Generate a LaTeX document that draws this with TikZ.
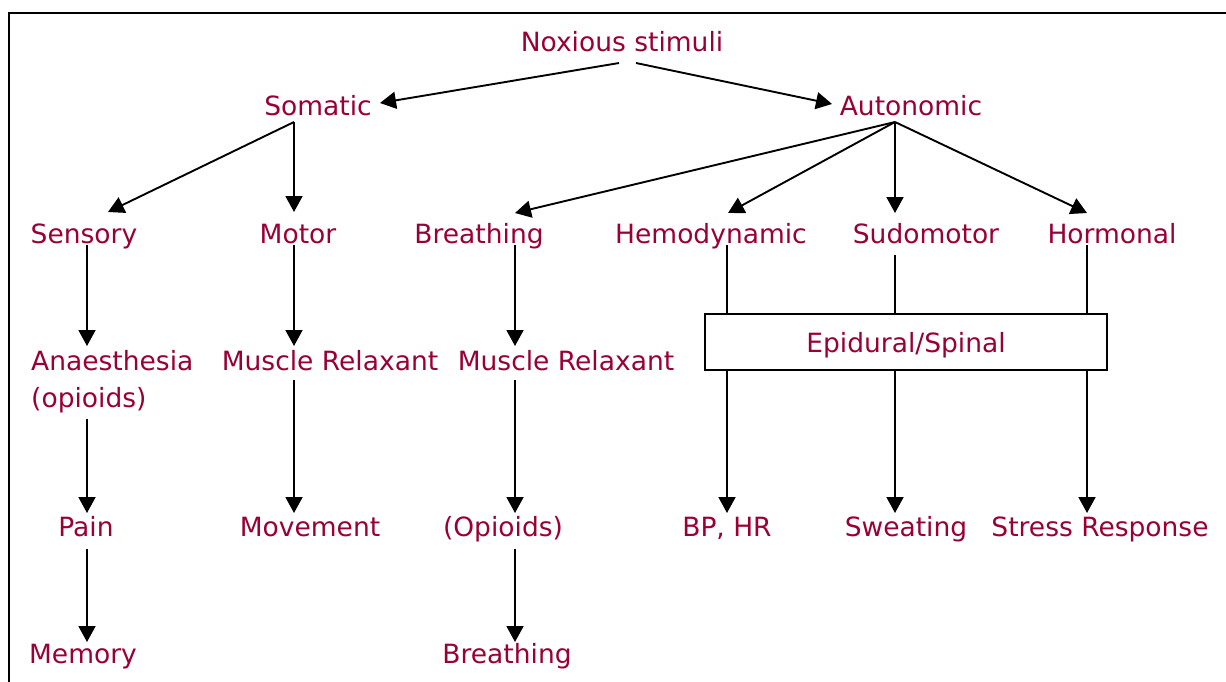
\documentclass[tikz,border=0pt]{standalone}
\usepackage{fontspec}
\setmainfont{DejaVu Sans}
\usetikzlibrary{arrows.meta}
\definecolor{lbl}{RGB}{153,0,51}
\begin{document}
\begin{tikzpicture}[x=1pt,y=-1pt,
  lab/.style={anchor=base,inner sep=0pt,text=lbl,font=\fontsize{26.5}{32}\selectfont},
  arr/.style={line width=1.9pt,-{Triangle[length=16pt,width=17pt]}},
  ln/.style={line width=1.9pt}]
\useasboundingbox (0,0) rectangle (1226,681);
\clip (0,0) rectangle (1226,681);
\draw[line width=2.2pt] (9,13) rectangle (1250,700);
% nodes
\node[lab] (nox) at (622,51.7) {Noxious stimuli};
\node[lab] (som) at (318,115) {Somatic};
\node[lab] (aut) at (911,115) {Autonomic};
\node[lab] (sen) at (84,243) {Sensory};
\node[lab] (mot) at (298,243) {Motor};
\node[lab] (bre) at (479,243) {Breathing};
\node[lab] (hem) at (711,243) {Hemodynamic};
\node[lab] (sud) at (926,243) {Sudomotor};
\node[lab] (hor) at (1112,243) {Hormonal};
\node[lab,anchor=base west] (ana1) at (31,370.7) {Anaesthesia};
\node[lab,anchor=base west] (ana2) at (31,407.5) {(opioids)};
\node[lab] (mr1) at (330,370.7) {Muscle Relaxant};
\node[lab] (mr2) at (566,370.7) {Muscle Relaxant};
\node[draw,line width=1.9pt,minimum width=402pt,minimum height=56pt,inner sep=0pt,text depth=0pt,text=lbl,font=\fontsize{26.5}{32}\selectfont] (epi) at (906,342) {Epidural/Spinal};
\node[lab] (pain) at (86,536) {Pain};
\node[lab] (mov) at (310,536) {Movement};
\node[lab] (opi) at (503,536) {(Opioids)};
\node[lab] (bp) at (727,536) {BP, HR};
\node[lab] (swe) at (906,536) {Sweating};
\node[lab] (str) at (1100,536) {Stress Response};
\node[lab] (mem) at (83,663) {Memory};
\node[lab] (bre2) at (507,663) {Breathing};
% connectors
\draw[arr] ([xshift=-3pt,yshift=-11.3pt]nox.base) -- ([xshift=62pt,yshift=12pt]som.base);
\draw[arr] ([xshift=14pt,yshift=-11.3pt]nox.base) -- ([xshift=-79pt,yshift=11pt]aut.base);
\draw[arr] ([xshift=-24pt,yshift=-7pt]som.base) -- ([xshift=24pt,yshift=31pt]sen.base);
\draw[arr] ([xshift=-24pt,yshift=-7pt]som.base) -- ([xshift=-4pt,yshift=31pt]mot.base);
\draw[arr] ([xshift=-16pt,yshift=-7pt]aut.base) -- ([xshift=36pt,yshift=30pt]bre.base);
\draw[arr] ([xshift=-16pt,yshift=-7pt]aut.base) -- ([xshift=17pt,yshift=30pt]hem.base);
\draw[arr] ([xshift=-16pt,yshift=-7pt]aut.base) -- ([xshift=-31pt,yshift=30pt]sud.base);
\draw[arr] ([xshift=-16pt,yshift=-7pt]aut.base) -- ([xshift=-25pt,yshift=30pt]hor.base);
\draw[arr] ([xshift=3pt,yshift=-2pt]sen.base) -- ([xshift=56pt,yshift=24.7pt]ana1.base west);
\draw[arr] ([xshift=-4pt,yshift=-2pt]mot.base) -- ([xshift=-36pt,yshift=24.7pt]mr1.base);
\draw[arr] ([xshift=36pt,yshift=-2pt]bre.base) -- ([xshift=-51pt,yshift=24.7pt]mr2.base);
\draw[ln] ([xshift=16pt,yshift=-2pt]hem.base) coordinate (h1) -- (h1 |- epi.north);
\draw[ln] ([xshift=-31pt,yshift=-12pt]sud.base) coordinate (s1) -- (s1 |- epi.north);
\draw[ln] ([xshift=-25pt,yshift=-2pt]hor.base) coordinate (o1) -- (o1 |- epi.north);
\draw[arr] (h1 |- epi.south) -- ([yshift=23pt]bp.base);
\draw[arr] (s1 |- epi.south) -- ([xshift=-11pt,yshift=23pt]swe.base);
\draw[arr] (o1 |- epi.south) -- ([xshift=-13pt,yshift=23pt]str.base);
\draw[arr] ([xshift=56pt,yshift=-11pt]ana2.base west) -- ([xshift=1pt,yshift=23pt]pain.base);
\draw[arr] ([xshift=-36pt,yshift=-9.3pt]mr1.base) -- ([xshift=-16pt,yshift=23pt]mov.base);
\draw[arr] ([xshift=-51pt,yshift=-9.3pt]mr2.base) -- ([xshift=12pt,yshift=23pt]opi.base);
\draw[arr] ([xshift=1pt,yshift=-13pt]pain.base) -- ([xshift=4pt,yshift=21pt]mem.base);
\draw[arr] ([xshift=12pt,yshift=-13pt]opi.base) -- ([xshift=8pt,yshift=21pt]bre2.base);
\end{tikzpicture}
\end{document}
